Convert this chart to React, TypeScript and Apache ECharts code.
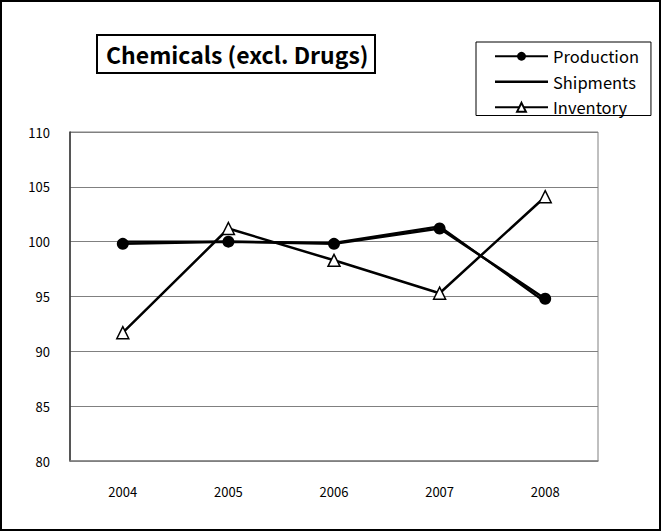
import React, { useEffect, useRef } from "react";
import * as echarts from "echarts";

const years = ["2004", "2005", "2006", "2007", "2008"];
const production = [99.8, 100.0, 99.8, 101.2, 94.8];
const shipments = [100.0, 100.0, 99.9, 101.4, 94.5];
const inventory = [91.7, 101.2, 98.3, 95.3, 104.1];

const FONT = "'Noto Sans CJK JP', 'Noto Sans', sans-serif";
const LINE_ICON = "path://M0,0L0.05,0L0.05,0.05Z M0,4.3 L53,4.3 L53,6.7 L0,6.7Z M52.95,10.95L53,11L52.95,11Z";

export default function App() {
  const ref = useRef<HTMLDivElement>(null);
  useEffect(() => {
    if (!ref.current) return;
    const chart = echarts.init(ref.current, null, { renderer: "svg" });
    chart.setOption({
      animation: false,
      backgroundColor: "#fff",
      textStyle: { fontFamily: FONT, color: "#000" },
      title: {
        text: "Chemicals (excl. Drugs)",
        left: 97,
        top: 35,
        borderColor: "#000",
        borderWidth: 2,
        padding: [6, 7, 6, 9],
        textStyle: { fontFamily: FONT, fontSize: 23, fontWeight: "bold", color: "#000", lineHeight: 26 },
      },
      legend: {
        orient: "vertical",
        left: 476,
        top: 42,
        itemWidth: 53,
        itemHeight: 11,
        itemGap: 9,
        padding: [6, 12, 0, 18],
        borderColor: "#000",
        borderWidth: 1,
        textStyle: { fontFamily: FONT, fontSize: 16.5, color: "#000" },
        data: [
          { name: "Production" },
          { name: "Shipments", icon: LINE_ICON },
          { name: "Inventory" },
        ],
      },
      grid: {
        left: 70,
        right: 64,
        top: 132,
        bottom: 71,
        show: true,
        borderColor: "#808080",
        borderWidth: 1,
      },
      xAxis: {
        type: "category",
        data: years,
        boundaryGap: true,
        axisLine: { show: true, lineStyle: { color: "#808080", width: 1.5 } },
        axisTick: { show: false },
        axisLabel: { margin: 24, fontSize: 13, color: "#000", fontFamily: FONT },
        splitLine: { show: false },
      },
      yAxis: {
        type: "value",
        min: 80,
        max: 110,
        interval: 5,
        axisLine: { show: true, lineStyle: { color: "#333", width: 1.5 } },
        axisTick: { show: false },
        axisLabel: { margin: 20, fontSize: 13, color: "#000", fontFamily: FONT },
        splitLine: { show: true, lineStyle: { color: "#808080", width: 1 } },
      },
      series: [
        {
          name: "Shipments",
          type: "line",
          data: shipments,
          symbol: "none",
          lineStyle: { color: "#000", width: 2.2 },
          itemStyle: { color: "#000" },
        },
        {
          name: "Production",
          type: "line",
          data: production,
          symbol: "circle",
          symbolSize: 12,
          lineStyle: { color: "#000", width: 2.5 },
          itemStyle: { color: "#000" },
        },
        {
          name: "Inventory",
          type: "line",
          data: inventory,
          symbol: "triangle",
          symbolSize: 12,
          lineStyle: { color: "#000", width: 2.5 },
          itemStyle: { color: "#fff", borderColor: "#000", borderWidth: 1.5 },
        },
      ],
      graphic: [
        {
          type: "rect",
          shape: { x: 1, y: 1, width: 659, height: 529 },
          style: { fill: "none", stroke: "#000", lineWidth: 2 },
          silent: true,
        },
      ],
    });
    return () => chart.dispose();
  }, []);
  return (
    <div
      ref={ref}
      style={{ position: "absolute", left: 0, top: 0, width: 662, height: 532 }}
    />
  );
}
